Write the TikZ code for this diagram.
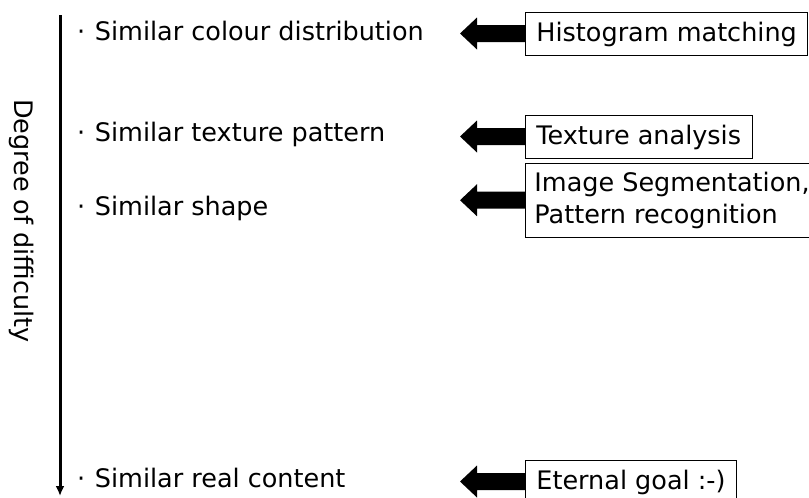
\documentclass[tikz,border=0pt]{standalone}
\usepackage{fontspec}
\setmainfont{DejaVu Sans}
\usetikzlibrary{arrows.meta, positioning}
\tikzset{
  bigfont/.style={font=\fontsize{25.5}{32}\selectfont},
  item/.style={bigfont, anchor=base west, inner sep=0pt},
  method/.style={bigfont, draw, line width=0.8pt, anchor=base west, align=left, inner xsep=11pt, inner ysep=8pt, text height=21pt, text depth=6pt},
}
\begin{document}
\begin{tikzpicture}[x=1pt, y=-1pt]
\useasboundingbox (0,0) rectangle (809,498);
% difficulty axis
\coordinate (top) at (60,15);
\coordinate (bot) at (60,496);
\draw[line width=3pt, -{Latex[length=10pt,width=9pt]}] (top) -- (bot);
\node[bigfont, rotate=-90] (axis) at (22,221) {Degree of difficulty};

% levels of similarity
\node[item] (colour) at (77,40) {·\hspace{1.5pt} Similar colour distribution};
\node[item] (texture) at (77,141) {·\hspace{1.5pt} Similar texture pattern};
\node[item] (shape) at (77,215) {·\hspace{1.5pt} Similar shape};
\node[item] (content) at (77,487) {·\hspace{1.5pt} Similar real content};

% techniques
\node[method] (hist) at (525,41) {Histogram matching};
\node[method] (texan) at (525,144) {Texture analysis};
\node[method, anchor=north west, text height=, text depth=, inner ysep=8.5pt, inner xsep=9pt] (seg) at (525,163) {Image Segmentation,\\Pattern recognition};
\node[method] (goal) at (525,489) {Eternal goal :-)};

% block arrows
\foreach \m in {hist, texan, seg, goal}
  \fill (\m.west) ++(0,-8.5) -- ++(-48,0) -- ++(0,-7.5) -- ++(-17,16) -- ++(17,16) -- ++(0,-7.5) -- ++(48,0) -- cycle;
\end{tikzpicture}
\end{document}
